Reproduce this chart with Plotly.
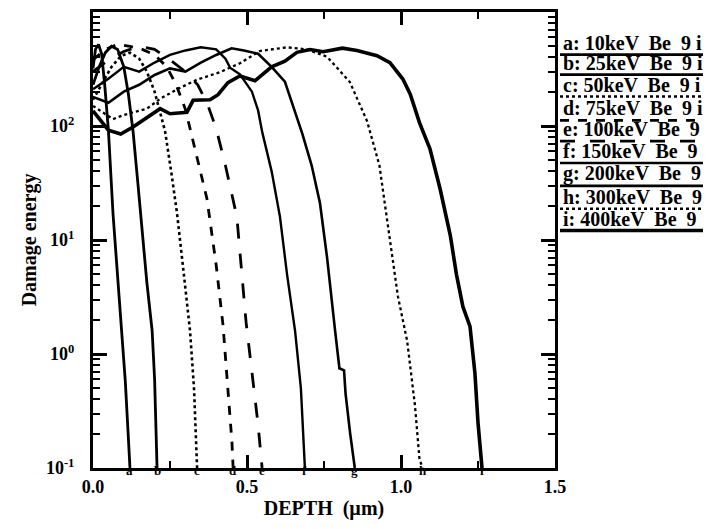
import math
import plotly.graph_objects as go

# Damage-energy depth profiles for Be-9 implants at nine energies
depth_a = [0.0, 0.008, 0.018, 0.028, 0.038, 0.05, 0.065, 0.08, 0.094, 0.105, 0.115, 0.12]
dmg_a = [320, 470, 520, 430, 230, 92, 17, 5, 1.6, 0.57, 0.18, 0.1]

depth_b = [0.0, 0.02, 0.04, 0.06, 0.08, 0.1, 0.115, 0.13, 0.145, 0.159, 0.175, 0.192, 0.2, 0.208]
dmg_b = [230, 330, 440, 500, 470, 330, 190, 90, 33, 12, 4.2, 1.6, 0.6, 0.1]

depth_c = [0.0, 0.03, 0.06, 0.09, 0.12, 0.15, 0.175, 0.2, 0.234, 0.255, 0.273, 0.295, 0.315, 0.328, 0.338]
dmg_c = [170, 240, 330, 410, 440, 390, 300, 200, 90, 38, 17, 5, 1.6, 0.5, 0.1]

depth_d = [0.0, 0.04, 0.08, 0.12, 0.16, 0.2, 0.24, 0.27, 0.3, 0.315, 0.34, 0.37, 0.4, 0.422, 0.451, 0.455]
dmg_d = [380, 470, 520, 500, 470, 420, 330, 230, 140, 95, 50, 23, 6, 1.8, 0.17, 0.1]

depth_e = [0.0, 0.05, 0.1, 0.15, 0.2, 0.25, 0.3, 0.34, 0.37, 0.4, 0.43, 0.467, 0.497, 0.536, 0.549]
dmg_e = [300, 380, 450, 500, 470, 380, 300, 230, 160, 95, 45, 16, 1.9, 0.24, 0.1]

depth_f = [0.0, 0.05, 0.1, 0.15, 0.2, 0.25, 0.3, 0.35, 0.4, 0.43, 0.445, 0.477, 0.516, 0.536, 0.55,
           0.58, 0.607, 0.63, 0.656, 0.675, 0.688]
dmg_f = [210, 260, 330, 300, 360, 420, 460, 490, 470, 390, 325, 284, 200, 137, 87,
         40, 16, 5, 1.6, 0.5, 0.1]

depth_g = [0.0, 0.05, 0.1, 0.15, 0.2, 0.25, 0.3, 0.35, 0.4, 0.45, 0.49, 0.536, 0.58, 0.623, 0.68,
           0.71, 0.737, 0.76, 0.786, 0.8, 0.815, 0.82, 0.835, 0.85]
dmg_g = [180, 160, 200, 230, 280, 320, 300, 360, 420, 480, 460, 430, 330, 245, 85,
         45, 21, 7, 1.6, 0.75, 0.72, 0.45, 0.2, 0.1]

depth_h = [0.0, 0.035, 0.065, 0.1, 0.175, 0.218, 0.273, 0.338, 0.41, 0.477, 0.542, 0.63, 0.695, 0.76,
           0.834, 0.89, 0.93, 0.96, 0.99, 1.02, 1.045, 1.06, 1.07]
dmg_h = [150, 130, 115, 125, 142, 173, 210, 255, 295, 355, 455, 490, 470, 405,
         243, 110, 45, 12, 3.2, 1.3, 0.36, 0.12, 0.1]

depth_i = [0.0, 0.05, 0.09, 0.13, 0.218, 0.25, 0.305, 0.325, 0.38, 0.406, 0.438, 0.477, 0.526, 0.58,
           0.623, 0.662, 0.705, 0.747, 0.81, 0.857, 0.922, 0.964, 1.006, 1.03, 1.06, 1.094, 1.127,
           1.16, 1.18, 1.201, 1.224, 1.24, 1.25, 1.263]
dmg_i = [136, 92, 85, 98, 142, 128, 132, 168, 170, 188, 240, 275, 250, 330,
         370, 443, 468, 448, 482, 460, 414, 360, 258, 190, 107, 63, 28,
         11, 5, 2.6, 1.75, 0.68, 0.25, 0.1]

curve_letters = ["a", "b", "c", "d", "e", "f", "g", "h", "i"]
legend_labels = [
    "a: 10keV  Be  9 i",
    "b: 25keV  Be  9 i",
    "c: 50keV  Be  9 i",
    "d: 75keV  Be  9 i",
    "e: 100keV  Be  9",
    "f: 150keV  Be  9",
    "g: 200keV  Be  9",
    "h: 300keV  Be  9",
    "i: 400keV  Be  9",
]
depths = [depth_a, depth_b, depth_c, depth_d, depth_e, depth_f, depth_g, depth_h, depth_i]
damages = [dmg_a, dmg_b, dmg_c, dmg_d, dmg_e, dmg_f, dmg_g, dmg_h, dmg_i]

# line style per curve: (dash, width)
styles = [
    ("solid", 2.8), ("solid", 2.8), ("dot", 2.6), ("dash", 2.8), ("longdash", 2.8),
    ("solid", 2.4), ("solid", 2.6), ("dot", 2.3), ("solid", 3.6),
]

W, H = 725, 529
ML, MR, MT, MB = 93, 170, 9, 61
PW, PH = W - ML - MR, H - MT - MB
SERIF = "Liberation Serif"


def px_x(x):
    return (x - ML) / PW


def px_y(y):
    return (H - MB - y) / PH


fig = go.Figure()
for letter, xs, ys, (dash, width) in zip(curve_letters, depths, damages, styles):
    fig.add_trace(go.Scatter(
        x=xs, y=ys, mode="lines", name=letter, showlegend=False,
        line=dict(color="black", width=width, dash=dash, shape="linear"),
    ))
    # small identifying letter where each profile meets the bottom axis
    fig.add_annotation(
        x=xs[-1], y=math.log10(ys[-1]), xref="x", yref="y", text=letter,
        showarrow=False, yshift=-2,
        font=dict(family=SERIF, size=13, color="black", weight="bold"),
    )

# legend: label text with a line sample drawn underneath each entry
text_y = [40, 60, 82, 106, 127, 149, 172, 195, 217]
for label, ty, (dash, width) in zip(legend_labels, text_y, styles):
    fig.add_annotation(
        x=px_x(561), y=px_y(ty), xref="paper", yref="paper", xanchor="left", yanchor="middle",
        text=label, showarrow=False,
        font=dict(family=SERIF, size=20, color="black", weight="bold"),
    )
    fig.add_shape(
        type="line", xref="paper", yref="paper",
        x0=px_x(560), x1=px_x(703), y0=px_y(ty + 12), y1=px_y(ty + 12),
        line=dict(color="black", width=max(width, 2.6), dash=dash),
    )

tick_font = dict(family=SERIF, size=18, color="black", weight="bold")
fig.update_xaxes(
    range=[0, 1.5], tickvals=[0, 0.5, 1.0, 1.5], tickformat=".1f",
    ticks="inside", ticklen=13, tickwidth=2.5, tickcolor="black",
    minor=dict(tickvals=[0.25, 0.75, 1.25], ticks="inside", ticklen=7, tickwidth=2, tickcolor="black"),
    showline=True, linewidth=3, linecolor="black", mirror="allticks",
    showgrid=False, zeroline=False, tickfont=tick_font, ticklabelstandoff=0,
    title=dict(text="DEPTH  (µm)", font=dict(family=SERIF, size=20, color="black", weight="bold"), standoff=6),
)
fig.update_yaxes(
    type="log", range=[-1, 3],
    tickvals=[0.1, 1, 10, 100, 1000],
    ticktext=["10<sup>-1</sup>", "10<sup>0</sup>", "10<sup>1</sup>", "10<sup>2</sup>", "10<sup>3</sup>"],
    ticks="inside", ticklen=14, tickwidth=2.5, tickcolor="black",
    minor=dict(tickvals=[m * 10 ** e for e in range(-1, 3) for m in range(2, 10)],
               ticks="inside", ticklen=7, tickwidth=2, tickcolor="black"),
    showline=True, linewidth=3, linecolor="black", mirror="allticks",
    showgrid=False, zeroline=False, tickfont=tick_font, ticklabelstandoff=12,
    title=dict(text="Damage energy", font=dict(family=SERIF, size=20, color="black", weight="bold"), standoff=4),
)
fig.update_layout(
    width=W, height=H, margin=dict(l=ML, r=MR, t=MT, b=MB),
    paper_bgcolor="white", plot_bgcolor="white",
)
fig.write_html("out.html")
